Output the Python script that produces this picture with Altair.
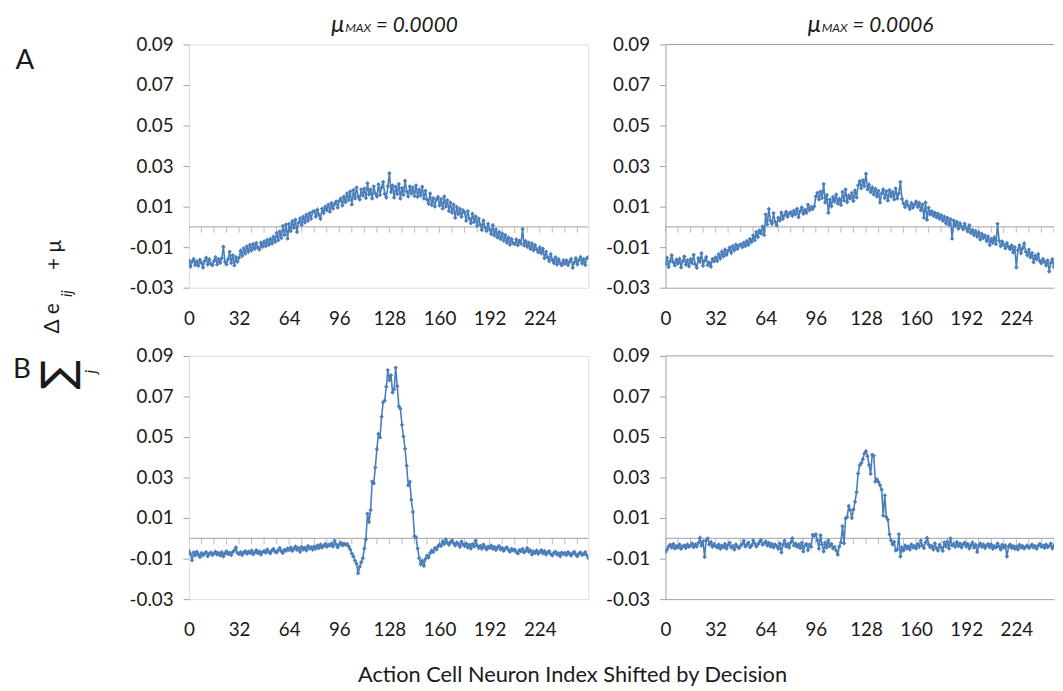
import altair as alt
import pandas as pd

# ---------------- data ----------------
INDEX = list(range(256))

A_MU0 = [
    -0.0165, -0.0195, -0.0172, -0.0158, -0.0188, -0.0170, -0.0192, -0.0162, -0.0178, -0.0200, -0.0168, -0.0152, -0.0185, -0.0160, -0.0182, -0.0190,
    -0.0168, -0.0150, -0.0186, -0.0160, -0.0178, -0.0155, -0.0098, -0.0172, -0.0185, -0.0160, -0.0122, -0.0178, -0.0140, -0.0190, -0.0150, -0.0172,
    -0.0152, -0.0118, -0.0142, -0.0105, -0.0132, -0.0096, -0.0122, -0.0088, -0.0115, -0.0085, -0.0108, -0.0080, -0.0102, -0.0112, -0.0078, -0.0098,
    -0.0072, -0.0095, -0.0065, -0.0088, -0.0060, -0.0082, -0.0048, -0.0074, -0.0030, -0.0066, -0.0022, -0.0055, 0.0005, -0.0040, 0.0012, -0.0058,
    0.0015, -0.0020, 0.0028, -0.0005, 0.0035, -0.0025, 0.0020, 0.0042, 0.0010, 0.0050, 0.0022, 0.0060, 0.0030, 0.0068, 0.0040, 0.0075,
    0.0078, 0.0050, 0.0085, 0.0060, 0.0040, 0.0090, 0.0068, 0.0100, 0.0082, 0.0110, 0.0075, 0.0118, 0.0090, 0.0112, 0.0125, 0.0095,
    0.0128, 0.0140, 0.0105, 0.0150, 0.0122, 0.0165, 0.0132, 0.0175, 0.0110, 0.0182, 0.0140, 0.0195, 0.0150, 0.0135, 0.0185, 0.0155,
    0.0190, 0.0142, 0.0215, 0.0160, 0.0185, 0.0140, 0.0200, 0.0165, 0.0150, 0.0210, 0.0158, 0.0195, 0.0222, 0.0162, 0.0145, 0.0200,
    0.0265, 0.0172, 0.0205, 0.0145, 0.0198, 0.0162, 0.0212, 0.0140, 0.0192, 0.0158, 0.0228, 0.0175, 0.0150, 0.0200, 0.0165, 0.0195,
    0.0152, 0.0205, 0.0148, 0.0185, 0.0155, 0.0198, 0.0140, 0.0178, 0.0135, 0.0115, 0.0165, 0.0108, 0.0142, 0.0100, 0.0135, 0.0148,
    0.0105, 0.0138, 0.0090, 0.0150, 0.0100, 0.0132, 0.0078, 0.0120, 0.0070, 0.0110, 0.0045, 0.0098, 0.0062, 0.0090, 0.0050, 0.0082,
    0.0070, 0.0030, 0.0078, 0.0042, 0.0018, 0.0065, 0.0024, 0.0052, 0.0005, 0.0042, 0.0012, -0.0015, 0.0032, -0.0002, -0.0020, 0.0015,
    -0.0012, -0.0035, 0.0008, -0.0042, -0.0012, -0.0052, -0.0025, -0.0060, -0.0032, -0.0068, -0.0040, -0.0078, -0.0052, -0.0088, -0.0060, -0.0080,
    -0.0085, -0.0062, -0.0090, -0.0068, -0.0082, -0.0010, -0.0092, -0.0070, -0.0098, -0.0078, -0.0108, -0.0082, -0.0115, -0.0090, -0.0110, -0.0125,
    -0.0102, -0.0130, -0.0108, -0.0155, -0.0122, -0.0150, -0.0168, -0.0135, -0.0162, -0.0178, -0.0150, -0.0185, -0.0160, -0.0178, -0.0190, -0.0165,
    -0.0182, -0.0165, -0.0188, -0.0172, -0.0158, -0.0202, -0.0175, -0.0155, -0.0185, -0.0165, -0.0148, -0.0180, -0.0160, -0.0188, -0.0155, -0.0148,
]

A_MU6 = [
    -0.0185, -0.0152, -0.0198, -0.0168, -0.0140, -0.0175, -0.0190, -0.0162, -0.0181, -0.0158, -0.0200, -0.0170, -0.0146, -0.0186, -0.0165, -0.0194,
    -0.0160, -0.0178, -0.0138, -0.0185, -0.0202, -0.0155, -0.0172, -0.0130, -0.0192, -0.0166, -0.0149, -0.0188, -0.0175, -0.0196, -0.0158, -0.0170,
    -0.0150, -0.0168, -0.0135, -0.0156, -0.0122, -0.0145, -0.0112, -0.0138, -0.0118, -0.0102, -0.0128, -0.0095, -0.0115, -0.0088, -0.0108, -0.0092,
    -0.0085, -0.0100, -0.0078, -0.0094, -0.0070, -0.0088, -0.0060, -0.0075, -0.0042, -0.0066, -0.0025, -0.0050, -0.0018, -0.0032, 0.0002, -0.0040,
    0.0062, 0.0012, 0.0088, 0.0030, 0.0015, 0.0068, 0.0025, 0.0008, 0.0045, 0.0032, 0.0071, 0.0040, 0.0058, 0.0075, 0.0050, 0.0066,
    0.0072, 0.0055, 0.0080, 0.0062, 0.0090, 0.0048, 0.0078, 0.0096, 0.0065, 0.0085, 0.0070, 0.0110, 0.0082, 0.0098, 0.0088, 0.0102,
    0.0150, 0.0168, 0.0135, 0.0175, 0.0142, 0.0212, 0.0120, 0.0158, 0.0070, 0.0135, 0.0102, 0.0148, 0.0125, 0.0160, 0.0115, 0.0138,
    0.0108, 0.0172, 0.0130, 0.0185, 0.0122, 0.0155, 0.0140, 0.0168, 0.0128, 0.0180, 0.0145, 0.0205, 0.0225, 0.0190, 0.0230, 0.0200,
    0.0262, 0.0185, 0.0208, 0.0172, 0.0195, 0.0160, 0.0188, 0.0150, 0.0178, 0.0120, 0.0165, 0.0185, 0.0142, 0.0176, 0.0130, 0.0182,
    0.0150, 0.0172, 0.0135, 0.0190, 0.0140, 0.0165, 0.0222, 0.0138, 0.0115, 0.0098, 0.0125, 0.0105, 0.0088, 0.0118, 0.0095, 0.0110,
    0.0125, 0.0098, 0.0118, 0.0082, 0.0110, 0.0045, 0.0120, 0.0035, 0.0095, 0.0062, 0.0078, 0.0055, 0.0070, 0.0048, 0.0065, 0.0040,
    0.0058, 0.0030, 0.0050, 0.0018, 0.0045, 0.0010, 0.0038, -0.0058, 0.0032, 0.0005, 0.0025, -0.0008, 0.0018, 0.0002, -0.0012, 0.0015,
    -0.0005, -0.0022, 0.0008, -0.0030, -0.0015, -0.0040, -0.0020, -0.0048, -0.0028, -0.0062, -0.0035, -0.0055, -0.0042, -0.0070, -0.0048, -0.0090,
    -0.0060, -0.0078, -0.0052, -0.0085, 0.0015, -0.0068, -0.0095, -0.0072, -0.0088, -0.0105, -0.0080, -0.0098, -0.0110, -0.0092, -0.0125, -0.0100,
    -0.0200, -0.0115, -0.0090, -0.0130, -0.0105, -0.0082, -0.0122, -0.0140, -0.0112, -0.0150, -0.0128, -0.0175, -0.0142, -0.0160, -0.0135, -0.0168,
    -0.0180, -0.0158, -0.0172, -0.0190, -0.0165, -0.0220, -0.0178, -0.0160, -0.0195, -0.0170, -0.0185, -0.0162, -0.0176, -0.0190, -0.0168, -0.0180,
]

B_MU0 = [
    -0.0062, -0.0078, -0.0108, -0.0070, -0.0085, -0.0066, -0.0080, -0.0092, -0.0072, -0.0084, -0.0075, -0.0068, -0.0088, -0.0076, -0.0070, -0.0082,
    -0.0074, -0.0066, -0.0080, -0.0072, -0.0085, -0.0069, -0.0090, -0.0075, -0.0064, -0.0078, -0.0071, -0.0083, -0.0067, -0.0060, -0.0045, -0.0072,
    -0.0078, -0.0068, -0.0082, -0.0070, -0.0063, -0.0076, -0.0066, -0.0072, -0.0060, -0.0079, -0.0070, -0.0058, -0.0074, -0.0065, -0.0080, -0.0068,
    -0.0062, -0.0071, -0.0055, -0.0068, -0.0074, -0.0060, -0.0052, -0.0066, -0.0070, -0.0058, -0.0048, -0.0064, -0.0072, -0.0056, -0.0061, -0.0050,
    -0.0058, -0.0045, -0.0062, -0.0052, -0.0040, -0.0057, -0.0048, -0.0066, -0.0042, -0.0055, -0.0046, -0.0060, -0.0038, -0.0050, -0.0044, -0.0056,
    -0.0040, -0.0052, -0.0035, -0.0048, -0.0030, -0.0045, -0.0038, -0.0028, -0.0042, -0.0032, -0.0036, -0.0025, -0.0040, -0.0012, -0.0030, -0.0045,
    -0.0030, -0.0022, -0.0035, -0.0026, -0.0032, -0.0028, -0.0040, -0.0055, -0.0075, -0.0090, -0.0110, -0.0125, -0.0172, -0.0140, -0.0118, -0.0098,
    -0.0050, -0.0005, 0.0122, 0.0080, 0.0140, 0.0280, 0.0272, 0.0350, 0.0440, 0.0515, 0.0498, 0.0600, 0.0672, 0.0680, 0.0748, 0.0830,
    0.0780, 0.0805, 0.0720, 0.0735, 0.0842, 0.0750, 0.0652, 0.0640, 0.0560, 0.0502, 0.0442, 0.0358, 0.0262, 0.0280, 0.0190, 0.0130,
    0.0010, 0.0005, -0.0050, -0.0098, -0.0128, -0.0110, -0.0135, -0.0102, -0.0085, -0.0095, -0.0072, -0.0060, -0.0068, -0.0048, -0.0055, -0.0040,
    -0.0030, -0.0038, -0.0015, -0.0028, -0.0005, -0.0022, -0.0032, -0.0018, -0.0010, -0.0025, -0.0035, -0.0020, -0.0028, -0.0042, -0.0015, -0.0030,
    -0.0038, -0.0025, -0.0045, -0.0032, -0.0050, -0.0028, -0.0040, -0.0012, -0.0035, -0.0048, -0.0038, -0.0052, -0.0030, -0.0044, -0.0055, -0.0040,
    -0.0048, -0.0035, -0.0052, -0.0042, -0.0058, -0.0045, -0.0038, -0.0055, -0.0048, -0.0062, -0.0050, -0.0044, -0.0058, -0.0066, -0.0052, -0.0060,
    -0.0055, -0.0068, -0.0075, -0.0058, -0.0064, -0.0052, -0.0070, -0.0062, -0.0048, -0.0066, -0.0058, -0.0080, -0.0065, -0.0072, -0.0060, -0.0076,
    -0.0068, -0.0058, -0.0074, -0.0062, -0.0080, -0.0070, -0.0064, -0.0078, -0.0085, -0.0072, -0.0066, -0.0080, -0.0074, -0.0088, -0.0070, -0.0078,
    -0.0072, -0.0082, -0.0068, -0.0076, -0.0085, -0.0074, -0.0066, -0.0080, -0.0088, -0.0075, -0.0070, -0.0082, -0.0078, -0.0068, -0.0084, -0.0098,
]

B_MU6 = [
    -0.0068, -0.0055, -0.0040, -0.0032, -0.0045, -0.0028, -0.0050, -0.0038, -0.0046, -0.0030, -0.0052, -0.0040, -0.0035, -0.0048, -0.0030, -0.0042,
    -0.0036, -0.0025, -0.0044, -0.0030, -0.0040, -0.0022, 0.0002, -0.0035, -0.0015, -0.0092, -0.0010, 0.0000, -0.0030, -0.0018, -0.0042, -0.0028,
    -0.0038, -0.0045, -0.0030, -0.0052, -0.0036, -0.0044, -0.0028, -0.0050, -0.0034, -0.0022, -0.0046, -0.0038, -0.0055, -0.0030, -0.0042, -0.0048,
    -0.0036, -0.0028, -0.0012, -0.0040, -0.0032, -0.0020, -0.0044, -0.0035, -0.0010, -0.0025, -0.0040, -0.0030, -0.0018, -0.0008, -0.0032, -0.0024,
    -0.0015, -0.0035, -0.0022, -0.0040, -0.0028, -0.0045, -0.0030, -0.0038, -0.0052, -0.0025, -0.0070, -0.0032, -0.0012, -0.0040, -0.0028, -0.0046,
    -0.0020, 0.0000, -0.0035, -0.0025, -0.0042, -0.0030, -0.0048, -0.0022, -0.0065, -0.0035, -0.0028, -0.0058, -0.0030, -0.0042, 0.0018, 0.0012,
    0.0020, -0.0010, -0.0052, 0.0015, -0.0030, -0.0065, -0.0020, -0.0045, -0.0010, -0.0038, -0.0028, -0.0050, -0.0042, -0.0060, -0.0080, -0.0040,
    -0.0020, 0.0060, -0.0025, 0.0098, 0.0105, 0.0160, 0.0138, 0.0100, 0.0142, 0.0180, 0.0228, 0.0320, 0.0360, 0.0372, 0.0390, 0.0418,
    0.0430, 0.0405, 0.0362, 0.0318, 0.0412, 0.0408, 0.0280, 0.0292, 0.0278, 0.0262, 0.0240, 0.0112, 0.0212, 0.0105, 0.0092, 0.0020,
    -0.0010, -0.0030, -0.0018, -0.0060, -0.0055, 0.0020, -0.0090, -0.0045, -0.0060, -0.0035, -0.0050, -0.0040, -0.0055, -0.0030, -0.0045, -0.0038,
    -0.0050, -0.0028, -0.0042, -0.0012, -0.0035, -0.0048, -0.0020, 0.0002, -0.0030, -0.0044, -0.0038, -0.0055, -0.0025, -0.0048, -0.0060, -0.0032,
    -0.0045, -0.0062, -0.0020, -0.0040, -0.0015, -0.0050, 0.0000, -0.0035, -0.0028, -0.0042, -0.0018, -0.0038, -0.0025, -0.0045, -0.0030, -0.0022,
    -0.0040, -0.0028, -0.0050, -0.0035, -0.0020, -0.0046, -0.0032, -0.0068, -0.0038, -0.0025, -0.0042, -0.0030, -0.0048, -0.0036, -0.0028, -0.0044,
    -0.0030, -0.0052, -0.0038, -0.0045, -0.0025, -0.0040, -0.0055, -0.0032, -0.0046, -0.0035, -0.0090, -0.0042, -0.0030, -0.0048, -0.0038, -0.0052,
    -0.0040, -0.0055, -0.0032, -0.0045, -0.0038, -0.0050, -0.0042, -0.0035, -0.0048, -0.0040, -0.0030, -0.0045, -0.0038, -0.0052, -0.0036, -0.0028,
    -0.0042, -0.0035, -0.0048, -0.0030, -0.0044, -0.0038, -0.0025, -0.0050, -0.0036, -0.0042, -0.0030, -0.0046, -0.0038, -0.0032, -0.0044, -0.0040,
]

X_LABELS = [0, 32, 64, 96, 128, 160, 192, 224]
X_MINOR = list(range(0, 256, 8))
Y_TICKS = [-0.03, -0.01, 0.01, 0.03, 0.05, 0.07, 0.09]
MU_VALUES = ["= 0.0000", "= 0.0006"]
ROW_LABELS = ["A", "B"]
X_TITLE = "Action Cell Neuron Index Shifted by Decision"

# ---------------- style ----------------
FONT = "Lato"
GREY = "#a0a0a0"
BLUE = "#4a7ebb"
TEXT = "#1a1a1a"
PW, PH = 404, 246          # full panel plot size
RW = 393                   # right column is cropped by the page edge
XMAX = 255
XMAX_R = XMAX * RW / PW

Y_LABEL_EXPR = "(datum.value < 0 ? '-' : '') + format(abs(datum.value), '.2f')"


def text_layer(s, x, y, size, italic=False, angle=0, align="center",
               baseline="middle", font=FONT, weight="normal"):
    return alt.Chart(pd.DataFrame({"s": [s]})).mark_text(
        x=x, y=y, fontSize=size, font=font, angle=angle, align=align,
        baseline=baseline, color=TEXT, fontWeight=weight,
        fontStyle="italic" if italic else "normal",
    ).encode(text="s:N")


def panel(vals, right, extras):
    w = RW if right else PW
    xmax = XMAX_R if right else XMAX
    df = pd.DataFrame({"idx": INDEX, "v": vals})
    xs = alt.Scale(domain=[0, xmax], nice=False, zero=False)
    ys = alt.Scale(domain=[-0.03, 0.09], nice=False, zero=False)
    xax = alt.Axis(values=X_LABELS, ticks=False, domain=right,
                   domainColor=GREY, labelPadding=22, labelFontSize=19,
                   labelFont=FONT, labelColor=TEXT, title=None, grid=False,
                   labelFlush=False, labelOverlap=False, format="d")
    yax = alt.Axis(values=Y_TICKS, tickSize=6, tickColor=GREY, domain=right,
                   domainColor=GREY, labelPadding=10, labelFontSize=19,
                   labelFont=FONT, labelColor=TEXT, labelExpr=Y_LABEL_EXPR,
                   title=None, grid=False, labelOverlap=False)
    base = alt.Chart(df)
    zero = alt.Chart(pd.DataFrame({"idx": [0]})).mark_rule(
        color=GREY, strokeWidth=1).encode(y=alt.datum(0))
    ticks = alt.Chart(pd.DataFrame({"idx": X_MINOR})).mark_tick(
        orient="vertical", size=6, thickness=1, yOffset=3, color=GREY,
        clip=True).encode(x=alt.X("idx:Q", scale=xs), y=alt.datum(0))
    line = base.mark_line(color=BLUE, strokeWidth=1.6, clip=True).encode(
        x=alt.X("idx:Q", scale=xs, axis=xax),
        y=alt.Y("v:Q", scale=ys, axis=yax))
    pts = base.mark_point(shape="diamond", filled=True, size=20, color=BLUE,
                          opacity=1, clip=True).encode(x="idx:Q", y="v:Q")
    layers = [zero, ticks, line, pts]
    if right:
        top = alt.Chart(pd.DataFrame({"idx": [0]})).mark_rule(
            color=GREY, strokeWidth=1).encode(y=alt.value(0))
        layers.append(top)
    layers += extras
    ch = alt.layer(*layers).properties(width=w, height=PH)
    if right:
        ch = ch.properties(view=alt.ViewBackground(stroke="transparent"))
    return ch


def mu_title(value):
    return [
        text_layer("\u03bc", 144, -13, 24, italic=True, align="left",
                   baseline="alphabetic"),
        text_layer("MAX", 158, -13, 12.5, italic=True, align="left",
                   baseline="alphabetic"),
        text_layer(value, 189, -13, 21, italic=True, align="left",
                   baseline="alphabetic"),
    ]


ylab = [
    text_layer("\u2211", -131, 19, 44, angle=270, font="DejaVu Sans"),
    text_layer("j", -99, 16, 16, italic=True, angle=270),
    text_layer("\u0394 e", -137, -38, 21, angle=270),
    text_layer("ij", -123, -63, 15, italic=True, angle=270),
    text_layer("+ \u03bc", -135, -102, 21, angle=270),
]

tl = panel(A_MU0, False, mu_title(MU_VALUES[0]) + [text_layer(ROW_LABELS[0], -166, 17, 28)])
tr = panel(A_MU6, True, mu_title(MU_VALUES[1]))
bl = panel(B_MU0, False, [text_layer(ROW_LABELS[1], -169, 14, 28)] + ylab +
           [text_layer(X_TITLE, 388, 323, 22)])
br = panel(B_MU6, True, [])

chart = alt.concat(
    tl, tr, bl, br, columns=2, spacing={"row": 69, "column": 78},
    bounds="flush",
).properties(
    padding={"left": 4, "top": 0, "right": 0, "bottom": 0},
).configure_view(stroke=GREY, strokeWidth=1).configure(background="white")

chart.save("out.html", embed_options={"renderer": "svg", "actions": False})
